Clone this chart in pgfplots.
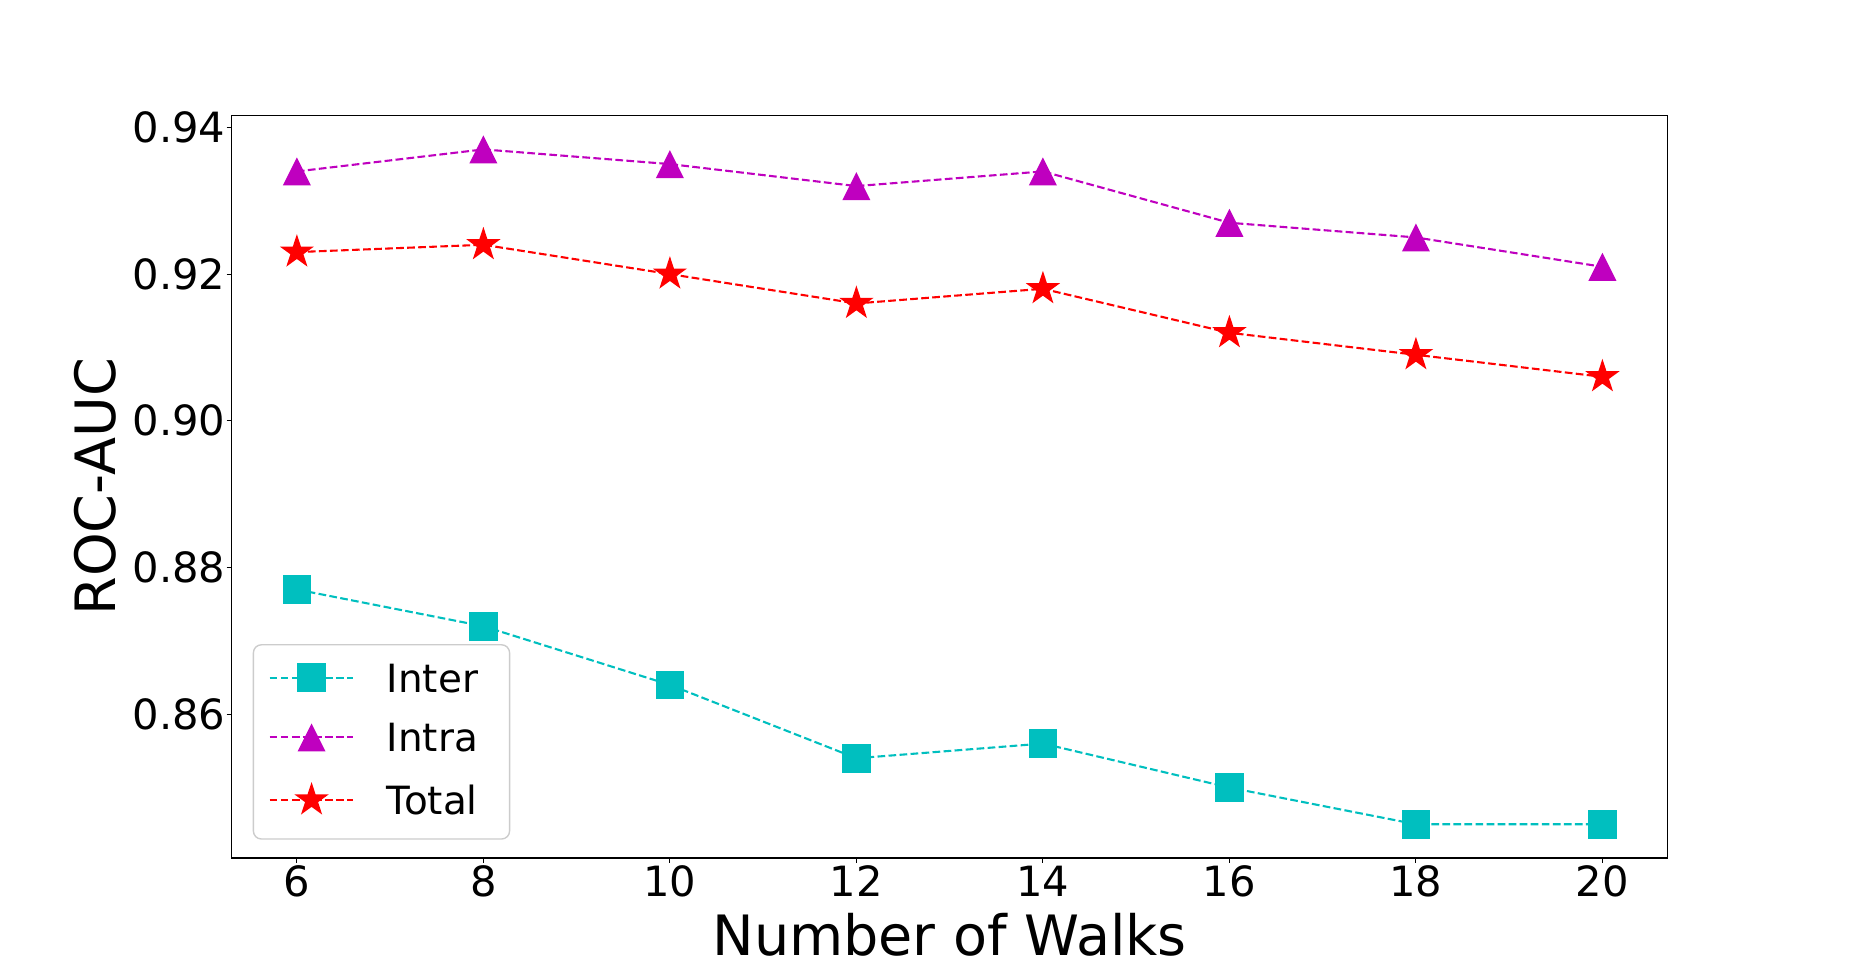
\documentclass[border=0pt]{standalone}
\usepackage{fontspec}
\setmainfont{DejaVu Sans}
\usepackage{pgfplots}
\pgfplotsset{compat=1.18}
\definecolor{mc}{rgb}{0,0.75,0.75}
\definecolor{mm}{rgb}{0.75,0,0.75}
\definecolor{mr}{rgb}{1,0,0}
\pgfdeclareplotmark{msq}{\pgfpathrectangle{\pgfqpoint{-\pgfplotmarksize}{-\pgfplotmarksize}}{\pgfqpoint{2\pgfplotmarksize}{2\pgfplotmarksize}}\pgfusepathqfill}
\pgfdeclareplotmark{mtri}{\pgfpathmoveto{\pgfqpoint{0pt}{\pgfplotmarksize}}\pgfpathlineto{\pgfqpoint{-\pgfplotmarksize}{-\pgfplotmarksize}}\pgfpathlineto{\pgfqpoint{\pgfplotmarksize}{-\pgfplotmarksize}}\pgfpathclose\pgfusepathqfill}
\pgfdeclareplotmark{mstar}{%
\pgfpathmoveto{\pgfpointpolar{90}{\pgfplotmarksize}}%
\pgfpathlineto{\pgfpointpolar{126}{0.382\pgfplotmarksize}}%
\pgfpathlineto{\pgfpointpolar{162}{\pgfplotmarksize}}%
\pgfpathlineto{\pgfpointpolar{198}{0.382\pgfplotmarksize}}%
\pgfpathlineto{\pgfpointpolar{234}{\pgfplotmarksize}}%
\pgfpathlineto{\pgfpointpolar{270}{0.382\pgfplotmarksize}}%
\pgfpathlineto{\pgfpointpolar{306}{\pgfplotmarksize}}%
\pgfpathlineto{\pgfpointpolar{342}{0.382\pgfplotmarksize}}%
\pgfpathlineto{\pgfpointpolar{18}{\pgfplotmarksize}}%
\pgfpathlineto{\pgfpointpolar{54}{0.382\pgfplotmarksize}}%
\pgfpathclose\pgfusepathqfill}
\pgfplotstableread{
x inter intra total
6 0.877 0.934 0.923
8 0.872 0.937 0.924
10 0.864 0.935 0.920
12 0.854 0.932 0.916
14 0.856 0.934 0.918
16 0.850 0.927 0.912
18 0.845 0.925 0.909
20 0.845 0.921 0.906
}\datatable
\begin{document}
\begin{tikzpicture}
\path[use as bounding box] (0,0) rectangle (926.5pt,482pt);
\begin{axis}[
 scale only axis, width=718.05pt, height=371.16pt,
 at={(115.8pt,53pt)}, anchor=south west,
 xmin=5.3, xmax=20.7, ymin=0.8404, ymax=0.9416,
 xtick={6,8,10,12,14,16,18,20},
 ytick={0.86,0.88,0.90,0.92,0.94},
 xtick pos=lower, ytick pos=left,
 tick align=outside, major tick length=2.45pt,
 tick style={line width=0.56pt, black},
 axis line style={line width=0.56pt},
 /pgf/number format/assume math mode=true,
 ticklabel style={font=\fontsize{20.83}{25}\selectfont},
 yticklabel style={/pgf/number format/fixed, /pgf/number format/fixed zerofill, /pgf/number format/precision=2, anchor=east, inner sep=0pt, xshift=-0.4pt},
 xticklabel style={anchor=north, inner sep=0pt, yshift=-1.3pt},
 xlabel={Number of Walks},
 ylabel={ROC-AUC},
 label style={font=\fontsize{27.8}{33}\selectfont},
 xlabel style={at={(axis description cs:0.5,-0.1307)}, anchor=base, inner sep=0pt, text depth=0pt},
 ylabel style={at={(axis description cs:-0.0951,0.5)}, anchor=center},
 every axis plot/.append style={line width=1.04pt, dash pattern=on 3.85pt off 1.67pt},
 legend style={at={(axis description cs:0.01469,0.02466)}, anchor=south west,
   draw=black!20, line width=0.69pt, rounded corners=4pt, fill=white,
   inner xsep=7.65pt, inner ysep=9.0pt, row sep=11.8pt, column sep=16.2pt,
   font=\fontsize{19.44}{23}\selectfont,
   nodes={inner sep=0pt, text height=14.2pt, text depth=0pt, text width=53.7pt, align=left}},
 legend cell align=left,
 legend image code/.code={%
   \draw[mark repeat=2,mark phase=2] plot coordinates {(0pt,0pt) (20.92pt,0pt) (41.85pt,0pt)};
   \path[draw=none,fill=none] (0pt,-10.5pt) rectangle (41.85pt,7.5pt);},
]
\addplot[color=mc, mark=msq, mark size=7.17pt, mark options={solid}] table[x=x,y=inter] {\datatable};
\addlegendentry{Inter}
\addplot[color=mm, mark=mtri, mark size=7pt, mark options={solid}] table[x=x,y=intra] {\datatable};
\addlegendentry{Intra}
\addplot[color=mr, mark=mstar, mark size=9pt, mark options={solid}] table[x=x,y=total] {\datatable};
\addlegendentry{Total}
\end{axis}
\end{tikzpicture}
\end{document}
